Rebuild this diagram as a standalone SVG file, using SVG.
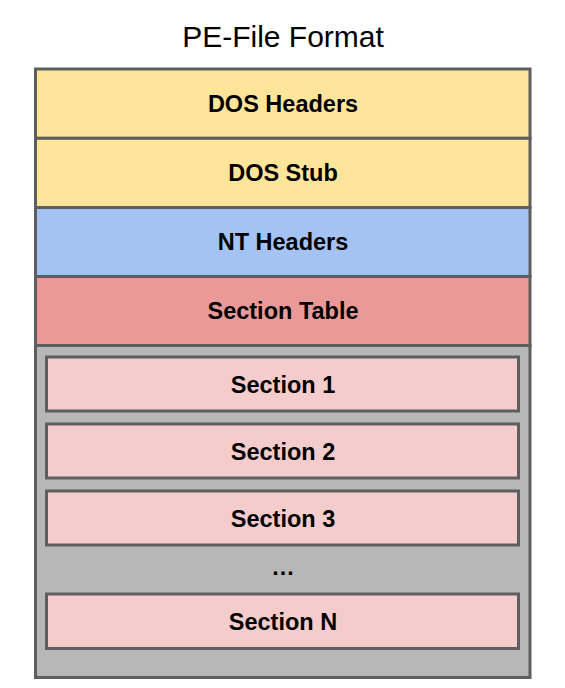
<svg xmlns="http://www.w3.org/2000/svg" width="565" height="688" viewBox="0 0 565 688">
<style>
.box{stroke:#5e5e5e;stroke-width:3}
.lbl{font-family:"Liberation Sans",Arial,sans-serif;font-weight:bold;font-size:23.5px;fill:#000;text-anchor:middle}
.ttl{font-family:"Liberation Sans",Arial,sans-serif;font-size:30px;fill:#000;text-anchor:middle}
</style>
<rect width="565" height="688" fill="#ffffff"/>
<text class="ttl" x="283" y="46.5">PE-File Format</text>
<g id="sections-area">
<rect class="box" x="35.5" y="345.5" width="494.5" height="332" fill="#b7b7b7"/>
</g>
<g id="dos-headers">
<rect class="box" x="35.5" y="69" width="494.5" height="69.3" fill="#ffe599"/>
<text class="lbl" x="283" y="111.8">DOS Headers</text>
</g>
<g id="dos-stub">
<rect class="box" x="35.5" y="138.3" width="494.5" height="69.2" fill="#ffe599"/>
<text class="lbl" x="283" y="181">DOS Stub</text>
</g>
<g id="nt-headers">
<rect class="box" x="35.5" y="207.5" width="494.5" height="69" fill="#a4c2f4"/>
<text class="lbl" x="283" y="250">NT Headers</text>
</g>
<g id="section-table">
<rect class="box" x="35.5" y="276.5" width="494.5" height="69" fill="#ea9999"/>
<text class="lbl" x="283" y="319">Section Table</text>
</g>
<g id="section-1">
<rect class="box" x="46.5" y="357" width="472" height="54" fill="#f4cccc"/>
<text class="lbl" x="283" y="392.5">Section 1</text>
</g>
<g id="section-2">
<rect class="box" x="46.5" y="424" width="472" height="54" fill="#f4cccc"/>
<text class="lbl" x="283" y="459.5">Section 2</text>
</g>
<g id="section-3">
<rect class="box" x="46.5" y="491" width="472" height="54" fill="#f4cccc"/>
<text class="lbl" x="283" y="526.5">Section 3</text>
</g>
<text class="lbl" x="283" y="575">…</text>
<g id="section-n">
<rect class="box" x="46.5" y="594" width="472" height="54.5" fill="#f4cccc"/>
<text class="lbl" x="283" y="630">Section N</text>
</g>
<g id="connectors"></g>
</svg>
